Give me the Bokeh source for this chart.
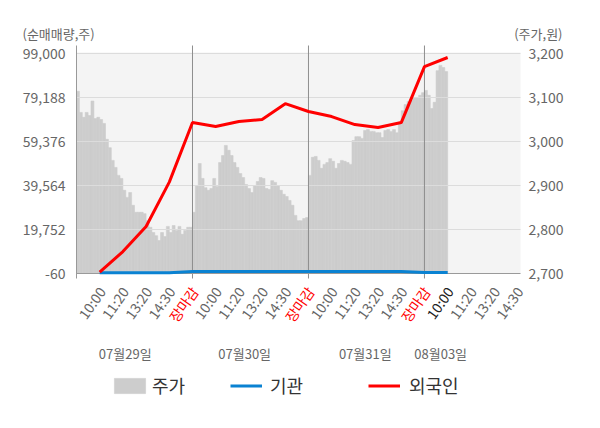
import math
from bokeh.plotting import figure
from bokeh.models import (Range1d, ColumnDataSource, LabelSet, Label, Legend, LegendItem)
from bokeh.core.properties import value
from bokeh.embed import file_html
from bokeh.resources import INLINE

# ---------------- data ----------------
dates = ["07월29일", "07월30일", "07월31일", "08월03일"]
day_ticks = ["10:00", "11:20", "13:20", "14:30", "장마감"]
tick_labels = day_ticks * 3 + day_ticks[:4]

# 외국인 (net buy, shares) at each tick point
foreign = [600, 9800, 21100, 41100, 67900,
           66100, 68400, 69300, 76400, 72900,
           70600, 67000, 65700, 67900, 93100,
           97200]
# 기관 (net buy, shares) at each tick point
institution = [250, 250, 250, 300, 800,
               800, 800, 800, 800, 800,
               800, 800, 800, 800, 400,
               400]

# 주가 (price, won) sampled along the session
price_day1 = [3114, 3066, 3055, 3066, 3059, 3092, 3052, 3055, 3050, 3041,
              3005, 2986, 2957, 2941, 2923, 2916, 2889, 2873, 2884, 2855,
              2839, 2839, 2839, 2836, 2820, 2805, 2793, 2786, 2775, 2793,
              2784, 2807, 2793, 2809, 2798, 2807, 2789, 2798, 2805, 2805]
price_day2 = [2839, 2900, 2950, 2916, 2895, 2889, 2893, 2916, 2898, 2952,
              2968, 2991, 2980, 2968, 2952, 2941, 2927, 2918, 2902, 2893,
              2884, 2900, 2909, 2918, 2916, 2893, 2891, 2911, 2907, 2900,
              2889, 2880, 2875, 2866, 2855, 2832, 2820, 2820, 2825, 2827]
price_day3 = [2923, 2964, 2966, 2957, 2939, 2948, 2952, 2961, 2955, 2939,
              2950, 2957, 2955, 2952, 2948, 3002, 3011, 3011, 3007, 3025,
              3027, 3023, 3023, 3020, 3020, 3009, 3025, 3027, 3023, 3027,
              3020, 3043, 3070, 3084, 3091, 3093, 3100, 3100, 3105, 3111]
price_day4 = [3116, 3105, 3075, 3089, 3161, 3173, 3168, 3159]
price = price_day1 + price_day2 + price_day3 + price_day4

left_ticks = [-60, 19752, 39564, 59376, 79188, 99000]
right_ticks = [2700, 2800, 2900, 3000, 3100, 3200]

# ---------------- layout constants ----------------
FONT = "Noto Sans CJK KR"
GREY_TXT = "#666666"
W, H = 596, 424
UNITS_PER_DAY = 5
SAMPLES_PER_UNIT = 8
X_END = 19.14
AREA_L, AREA_R = 76, 520          # plot area, px
AREA_TOP, AREA_BOT = 53, 273      # top / bottom tick, px
date_label_x = [2.1, 7.25, 12.45, 15.7]
CURRENT_TICK = 3 * len(day_ticks)  # first tick of the latest day, shown dark

u = X_END / (AREA_R - AREA_L)
l_lo, l_hi = left_ticks[0], left_ticks[-1]
r_lo, r_hi = right_ticks[0], right_ticks[-1]
lk = (l_hi - l_lo) / (AREA_BOT - AREA_TOP)
rk = (r_hi - r_lo) / (AREA_BOT - AREA_TOP)


def sy(px_from_top):
    """screen y (from bottom) for a pixel row counted from the top"""
    return H - px_from_top


tick_x = [i + 1 for i in range(len(tick_labels))]
price_x = [(i + 0.5) / SAMPLES_PER_UNIT for i in range(len(price))]
tick_colors = []
for i, t in enumerate(tick_labels):
    if t == "장마감":
        tick_colors.append("#ff0000")
    elif i == CURRENT_TICK:
        tick_colors.append("#222222")
    else:
        tick_colors.append(GREY_TXT)

p = figure(width=W, height=H, output_backend="svg", toolbar_location=None,
           x_axis_type=None, y_axis_type=None,
           x_range=Range1d(-AREA_L * u, X_END + (W - AREA_R) * u),
           y_range=Range1d(l_lo - (H - AREA_BOT) * lk, l_hi + AREA_TOP * lk),
           min_border_left=0, min_border_right=0, min_border_top=0, min_border_bottom=0)
p.extra_y_ranges = {"price": Range1d(r_lo - (H - AREA_BOT) * rk, r_hi + AREA_TOP * rk)}
p.outline_line_color = None
p.background_fill_color = "white"
p.border_fill_color = "white"
p.grid.visible = False

# plot-area background
p.quad(left=0, right=X_END, bottom=l_lo, top=l_hi + lk,
       fill_color="#f4f4f4", line_color=None, level="image")

# price area
src_p = ColumnDataSource(dict(x=price_x, top=price))
r_price = p.vbar(x="x", top="top", bottom=r_lo, width=1.0 / SAMPLES_PER_UNIT, source=src_p,
                 y_range_name="price", fill_color="#cdcdcd", line_color="#cdcdcd",
                 line_width=0.6, level="image")

# horizontal grid lines at the left ticks
grid_y = left_ticks[1:]
p.segment(x0=[0] * len(grid_y), x1=[X_END] * len(grid_y), y0=grid_y, y1=grid_y,
          line_color="#dcdcdc", line_width=1)
# day separators (and left axis line), reaching a little above / below the area
sep_x = [UNITS_PER_DAY * d for d in range(0, 4)]
sep_top = l_hi + 8 * lk
sep_bot = l_lo - 5 * lk
p.segment(x0=sep_x, x1=sep_x, y0=[sep_bot] * 4, y1=[sep_top] * 4,
          line_color=["#999999"] + ["#8e8e8e"] * 3, line_width=1)
# bottom axis line
p.segment(x0=[0], x1=[X_END], y0=[l_lo], y1=[l_lo], line_color="#9a9a9a", line_width=1)

# net buy lines
r_inst = p.line(tick_x, institution, line_color="#0a82d2", line_width=3)
r_for = p.line(tick_x, foreign, line_color="#ff0000", line_width=3)

# y tick labels (left: shares, right: price)
src_l = ColumnDataSource(dict(y=left_ticks, text=[f"{t:,}" for t in left_ticks]))
p.add_layout(LabelSet(source=src_l, x=AREA_L - 11, x_units="screen", y="y", text="text",
                      text_align="right", text_baseline="middle", text_color=GREY_TXT,
                      text_font=value(FONT), text_font_size="14px"))
src_r = ColumnDataSource(dict(y=right_ticks, text=[f"{t:,}" for t in right_ticks]))
p.add_layout(LabelSet(source=src_r, x=AREA_R + 8, x_units="screen", y="y", text="text",
                      y_range_name="price",
                      text_align="left", text_baseline="middle", text_color=GREY_TXT,
                      text_font=value(FONT), text_font_size="14px"))

# axis titles
p.add_layout(Label(x=22, y=sy(33), x_units="screen", y_units="screen", text="(순매매량,주)",
                   text_align="left", text_baseline="middle", text_color=GREY_TXT,
                   text_font=FONT, text_font_size="13px"))
p.add_layout(Label(x=562, y=sy(33), x_units="screen", y_units="screen", text="(주가,원)",
                   text_align="right", text_baseline="middle", text_color=GREY_TXT,
                   text_font=FONT, text_font_size="13px"))

# rotated time labels
src_t = ColumnDataSource(dict(x=tick_x, text=tick_labels, color=tick_colors))
p.add_layout(LabelSet(source=src_t, x="x", y=sy(288), y_units="screen", text="text",
                      angle=math.radians(55), text_align="right", text_baseline="middle",
                      text_color="color", text_font=value(FONT), text_font_size="14px",
                      x_offset=2))

# date labels
src_d = ColumnDataSource(dict(x=date_label_x, text=dates))
p.add_layout(LabelSet(source=src_d, x="x", y=sy(353), y_units="screen", text="text",
                      text_align="center", text_baseline="middle", text_color=GREY_TXT,
                      text_font=value(FONT), text_font_size="13px"))


def make_legend(label, rend, x_px, gw, standoff):
    lg = Legend(items=[LegendItem(label=label, renderers=[rend])],
                location=(x_px, sy(398)),
                orientation="horizontal", glyph_width=gw, glyph_height=19,
                label_standoff=standoff, padding=0, margin=0, spacing=0,
                border_line_color=None, background_fill_alpha=0,
                label_text_font=FONT, label_text_font_size="18px",
                label_text_color="#333333", label_height=19)
    p.add_layout(lg, "center")


make_legend("주가", r_price, 110, 39, 3)
make_legend("기관", r_inst, 230, 32, 8)
make_legend("외국인", r_for, 368, 32, 9)

open("out.html", "w").write(file_html(p, INLINE))
